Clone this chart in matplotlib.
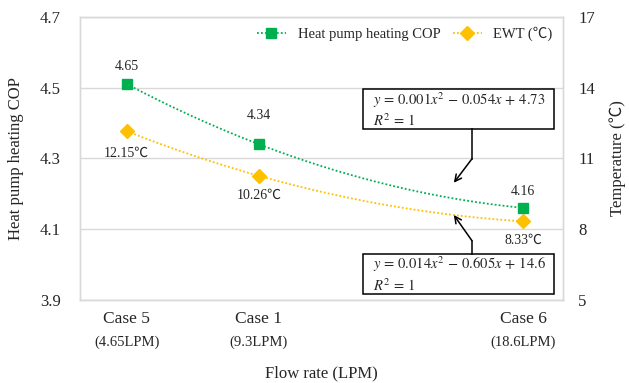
import matplotlib.pyplot as plt
import numpy as np
from matplotlib.lines import Line2D
from matplotlib.patches import Rectangle

# data
cases = ["Case 5", "Case 1", "Case 6"]
flow_lpm = [4.65, 9.3, 18.6]
flow_labels = ["(4.65LPM)", "(9.3LPM)", "(18.6LPM)"]
cop = [4.51, 4.34, 4.16]
cop_labels = ["4.65", "4.34", "4.16"]
ewt = [12.15, 10.26, 8.33]
ewt_labels = ["12.15℃", "10.26℃", "8.33℃"]
cop_ticks = [3.9, 4.1, 4.3, 4.5, 4.7]
temp_ticks = [5, 8, 11, 14, 17]

GREEN = "#00B050"
GOLD = "#FFC000"
GRID = "#D9D9D9"
INK = "#262626"

plt.rcParams["font.family"] = ["Liberation Serif", "Noto Sans CJK JP"]
plt.rcParams["mathtext.fontset"] = "stix"

fig, ax = plt.subplots(figsize=(6.29, 3.83), dpi=100)
fig.subplots_adjust(left=0.127, right=0.895, top=0.956, bottom=0.217)
ax2 = ax.twinx()

ax.set_xlim(3, 20)
ax.set_ylim(3.9, 4.7)
ax2.set_ylim(5, 17)
ax.set_yticks(cop_ticks)
ax.set_yticklabels([f"{t:.1f}" for t in cop_ticks])
ax2.set_yticks(temp_ticks)
ax.grid(True, axis="y", color=GRID, linewidth=1.0, zorder=0)
ax.set_axisbelow(True)
for a in (ax, ax2):
    for spine in a.spines.values():
        spine.set_color(GRID)
        spine.set_linewidth(1.0)
ax.tick_params(axis="y", length=0, pad=14, labelsize=12, colors=INK)
ax2.tick_params(axis="y", length=0, pad=11, labelsize=12, colors=INK)
ax.set_xticks(flow_lpm)
ax.set_xticklabels(cases)
ax.tick_params(axis="x", length=0, pad=8, labelsize=12.5, colors=INK)
for x, lab in zip(flow_lpm, flow_labels):
    ax.text(x, -0.148, lab, transform=ax.get_xaxis_transform(), ha="center",
            va="center", fontsize=10.5, color=INK)

# quadratic trendlines (3 points -> exact fit)
xs = np.linspace(flow_lpm[0], flow_lpm[-1], 200)
cop_fit = np.polyfit(flow_lpm, cop, 2)
ewt_fit = np.polyfit(flow_lpm, ewt, 2)
ax.plot(xs, np.polyval(cop_fit, xs), color=GREEN, linestyle=(0, (1, 1.2)), linewidth=1.3, zorder=2)
ax2.plot(xs, np.polyval(ewt_fit, xs), color=GOLD, linestyle=(0, (1, 1.2)), linewidth=1.3, zorder=2)
ax.plot(flow_lpm, cop, linestyle="none", marker="s", markersize=7, color=GREEN, zorder=3)
ax2.plot(flow_lpm, ewt, linestyle="none", marker="D", markersize=7, color=GOLD, zorder=3)

cop_dy = [13, 21, 12]
for x, y, lab, dy in zip(flow_lpm, cop, cop_labels, cop_dy):
    ax.annotate(lab, (x, y), xytext=(0, dy), textcoords="offset points",
                ha="center", va="center", fontsize=10, color=INK)
ewt_dy = [-16, -14, -14]
for x, y, lab, dy in zip(flow_lpm, ewt, ewt_labels, ewt_dy):
    ax2.annotate(lab, (x, y), xytext=(0, dy), textcoords="offset points",
                 ha="center", va="center", fontsize=10, color=INK)

# equation boxes with elbow arrows
for (y0, y1), (ytxt, eq), (ya, yelb, yhead) in [
    ((4.383, 4.496), (4.437, r"$y\,=\,0.001x^2\,-\,0.054x\,+\,4.73$" + "\n" + r"$R^2\,=\,1$"), (4.383, 4.299, 4.231)),
    ((3.917, 4.030), (3.973, r"$y\,=\,0.014x^2\,-\,0.605x\,+\,14.6$" + "\n" + r"$R^2\,=\,1$"), (4.030, 4.067, 4.140)),
]:
    ax2.add_patch(Rectangle((12.96, y0), 19.68 - 12.96, y1 - y0, transform=ax.transData,
                            facecolor="white", edgecolor="black", linewidth=1.1, zorder=5))
    ax2.text(13.3, ytxt, eq, transform=ax.transData, ha="left", va="center",
             fontsize=10.5, color=INK, linespacing=1.2, zorder=6)
    ax2.plot([16.80, 16.80], [ya, yelb], color="black", linewidth=1.1, transform=ax.transData, zorder=5)
    ax2.annotate("", xy=(16.16, yhead), xytext=(16.80, yelb), xycoords=ax.transData,
                 textcoords=ax.transData,
                 arrowprops=dict(arrowstyle="->", color="black", lw=1.1, shrinkA=0, shrinkB=0,
                                 mutation_scale=12), zorder=5)

ax.set_xlabel("Flow rate (LPM)", fontsize=12, color=INK)
ax.xaxis.set_label_coords(0.5, -0.232)
ax.set_ylabel("Heat pump heating COP", fontsize=12, color=INK)
ax.yaxis.set_label_coords(-0.115, 0.5)
ax2.set_ylabel("Temperature (℃)", fontsize=12, color=INK)
ax2.yaxis.set_label_coords(1.095, 0.5)

handles = [
    Line2D([], [], color=GREEN, linestyle=(0, (1, 1.2)), linewidth=1.3, marker="s", markersize=7),
    Line2D([], [], color=GOLD, linestyle=(0, (1, 1.2)), linewidth=1.3, marker="D", markersize=7),
]
leg = ax2.legend(handles, ["Heat pump heating COP", "EWT (℃)"], loc="upper right",
                 bbox_to_anchor=(1.0, 1.0), ncol=2, frameon=False, fontsize=10.5,
                 handlelength=2.0, handletextpad=0.8, columnspacing=0.85, borderaxespad=0.3)
for t in leg.get_texts():
    t.set_color(INK)

fig.savefig("out.png", dpi=100)
